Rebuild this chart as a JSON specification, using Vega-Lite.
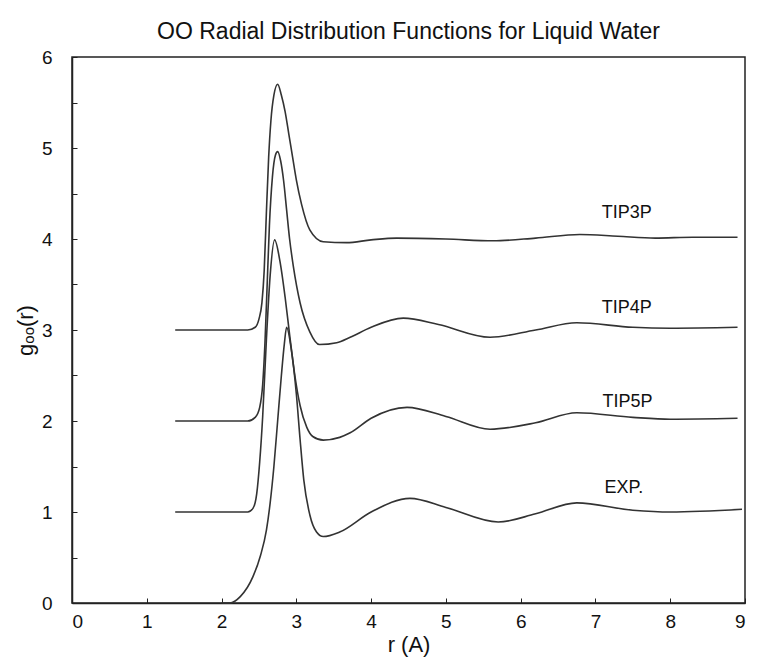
{
  "$schema": "https://vega.github.io/schema/vega-lite/v6.json",
  "autosize": "none",
  "width": 673,
  "height": 546,
  "padding": {"left": 72, "top": 57, "right": 13, "bottom": 61},
  "background": "white",
  "title": {
    "text": "OO Radial Distribution Functions for Liquid Water",
    "font": "Liberation Sans",
    "fontSize": 23,
    "fontWeight": "normal",
    "color": "#111",
    "anchor": "middle",
    "offset": 4
  },
  "config": {
    "view": {"stroke": "#222", "strokeWidth": 1.5},
    "axis": {
      "labelFont": "Liberation Sans",
      "titleFont": "Liberation Sans",
      "labelFontSize": 19,
      "titleFontSize": 22,
      "titleFontWeight": "normal",
      "labelColor": "#111",
      "titleColor": "#111",
      "domainColor": "#222",
      "domainWidth": 1.5,
      "tickColor": "#222",
      "tickSize": -5,
      "grid": false
    }
  },
  "datasets": {
    "curves": [
      {"series": "TIP3P", "r": 1.38, "g": 3.0},
      {"series": "TIP3P", "r": 2.0, "g": 3.0},
      {"series": "TIP3P", "r": 2.35, "g": 3.0},
      {"series": "TIP3P", "r": 2.45, "g": 3.03},
      {"series": "TIP3P", "r": 2.5, "g": 3.12},
      {"series": "TIP3P", "r": 2.54, "g": 3.3},
      {"series": "TIP3P", "r": 2.57, "g": 3.65},
      {"series": "TIP3P", "r": 2.6, "g": 4.3},
      {"series": "TIP3P", "r": 2.63, "g": 4.9},
      {"series": "TIP3P", "r": 2.66, "g": 5.3},
      {"series": "TIP3P", "r": 2.7, "g": 5.58},
      {"series": "TIP3P", "r": 2.75, "g": 5.7},
      {"series": "TIP3P", "r": 2.8, "g": 5.58},
      {"series": "TIP3P", "r": 2.85, "g": 5.4},
      {"series": "TIP3P", "r": 2.9, "g": 5.15},
      {"series": "TIP3P", "r": 2.95, "g": 4.9},
      {"series": "TIP3P", "r": 3.0, "g": 4.65},
      {"series": "TIP3P", "r": 3.07, "g": 4.38},
      {"series": "TIP3P", "r": 3.18, "g": 4.1},
      {"series": "TIP3P", "r": 3.36, "g": 3.97},
      {"series": "TIP3P", "r": 3.67, "g": 3.96},
      {"series": "TIP3P", "r": 4.0, "g": 3.99},
      {"series": "TIP3P", "r": 4.34, "g": 4.01},
      {"series": "TIP3P", "r": 5.0, "g": 4.0},
      {"series": "TIP3P", "r": 5.63, "g": 3.98},
      {"series": "TIP3P", "r": 6.2, "g": 4.01},
      {"series": "TIP3P", "r": 6.79, "g": 4.05},
      {"series": "TIP3P", "r": 7.3, "g": 4.03},
      {"series": "TIP3P", "r": 7.8, "g": 4.01},
      {"series": "TIP3P", "r": 8.3, "g": 4.02},
      {"series": "TIP3P", "r": 8.9, "g": 4.02},

      {"series": "TIP4P", "r": 1.38, "g": 2.0},
      {"series": "TIP4P", "r": 2.0, "g": 2.0},
      {"series": "TIP4P", "r": 2.35, "g": 2.0},
      {"series": "TIP4P", "r": 2.45, "g": 2.04},
      {"series": "TIP4P", "r": 2.51, "g": 2.15},
      {"series": "TIP4P", "r": 2.55, "g": 2.4},
      {"series": "TIP4P", "r": 2.58, "g": 2.85},
      {"series": "TIP4P", "r": 2.61, "g": 3.5},
      {"series": "TIP4P", "r": 2.64, "g": 4.15},
      {"series": "TIP4P", "r": 2.68, "g": 4.68},
      {"series": "TIP4P", "r": 2.72, "g": 4.92},
      {"series": "TIP4P", "r": 2.75, "g": 4.96},
      {"series": "TIP4P", "r": 2.79, "g": 4.86},
      {"series": "TIP4P", "r": 2.83, "g": 4.64},
      {"series": "TIP4P", "r": 2.87, "g": 4.32},
      {"series": "TIP4P", "r": 2.91, "g": 4.0},
      {"series": "TIP4P", "r": 2.96, "g": 3.7},
      {"series": "TIP4P", "r": 3.05, "g": 3.3},
      {"series": "TIP4P", "r": 3.18, "g": 2.98},
      {"series": "TIP4P", "r": 3.31, "g": 2.84},
      {"series": "TIP4P", "r": 3.54, "g": 2.86},
      {"series": "TIP4P", "r": 3.72, "g": 2.92},
      {"series": "TIP4P", "r": 4.0, "g": 3.03},
      {"series": "TIP4P", "r": 4.43, "g": 3.13},
      {"series": "TIP4P", "r": 4.9, "g": 3.06},
      {"series": "TIP4P", "r": 5.59, "g": 2.92},
      {"series": "TIP4P", "r": 6.2, "g": 3.0},
      {"series": "TIP4P", "r": 6.75, "g": 3.08},
      {"series": "TIP4P", "r": 7.5, "g": 3.03},
      {"series": "TIP4P", "r": 8.0, "g": 3.02},
      {"series": "TIP4P", "r": 8.9, "g": 3.03},

      {"series": "TIP5P", "r": 1.38, "g": 1.0},
      {"series": "TIP5P", "r": 2.0, "g": 1.0},
      {"series": "TIP5P", "r": 2.35, "g": 1.0},
      {"series": "TIP5P", "r": 2.42, "g": 1.04},
      {"series": "TIP5P", "r": 2.47, "g": 1.2},
      {"series": "TIP5P", "r": 2.51, "g": 1.55},
      {"series": "TIP5P", "r": 2.55, "g": 2.05},
      {"series": "TIP5P", "r": 2.6, "g": 2.9},
      {"series": "TIP5P", "r": 2.65, "g": 3.6},
      {"series": "TIP5P", "r": 2.71, "g": 3.99},
      {"series": "TIP5P", "r": 2.78, "g": 3.76},
      {"series": "TIP5P", "r": 2.85, "g": 3.36},
      {"series": "TIP5P", "r": 2.91, "g": 2.95},
      {"series": "TIP5P", "r": 2.98, "g": 2.5},
      {"series": "TIP5P", "r": 3.05, "g": 2.17},
      {"series": "TIP5P", "r": 3.14, "g": 1.93},
      {"series": "TIP5P", "r": 3.22, "g": 1.83},
      {"series": "TIP5P", "r": 3.36, "g": 1.79},
      {"series": "TIP5P", "r": 3.58, "g": 1.82},
      {"series": "TIP5P", "r": 3.72, "g": 1.87},
      {"series": "TIP5P", "r": 4.0, "g": 2.03},
      {"series": "TIP5P", "r": 4.48, "g": 2.15},
      {"series": "TIP5P", "r": 5.0, "g": 2.05},
      {"series": "TIP5P", "r": 5.59, "g": 1.91},
      {"series": "TIP5P", "r": 6.2, "g": 1.98},
      {"series": "TIP5P", "r": 6.75, "g": 2.09},
      {"series": "TIP5P", "r": 7.5, "g": 2.04},
      {"series": "TIP5P", "r": 8.0, "g": 2.02},
      {"series": "TIP5P", "r": 8.9, "g": 2.03},

      {"series": "EXP", "r": 2.0, "g": 0.0},
      {"series": "EXP", "r": 2.11, "g": 0.0},
      {"series": "EXP", "r": 2.25, "g": 0.07},
      {"series": "EXP", "r": 2.42, "g": 0.29},
      {"series": "EXP", "r": 2.52, "g": 0.52},
      {"series": "EXP", "r": 2.6, "g": 0.8},
      {"series": "EXP", "r": 2.65, "g": 1.1},
      {"series": "EXP", "r": 2.7, "g": 1.5},
      {"series": "EXP", "r": 2.75, "g": 2.0},
      {"series": "EXP", "r": 2.8, "g": 2.5},
      {"series": "EXP", "r": 2.84, "g": 2.85},
      {"series": "EXP", "r": 2.87, "g": 3.03},
      {"series": "EXP", "r": 2.93, "g": 2.8},
      {"series": "EXP", "r": 3.0, "g": 2.3},
      {"series": "EXP", "r": 3.05, "g": 1.8},
      {"series": "EXP", "r": 3.1, "g": 1.35},
      {"series": "EXP", "r": 3.18, "g": 0.97},
      {"series": "EXP", "r": 3.27, "g": 0.78},
      {"series": "EXP", "r": 3.36, "g": 0.73},
      {"series": "EXP", "r": 3.58, "g": 0.78},
      {"series": "EXP", "r": 4.0, "g": 1.0},
      {"series": "EXP", "r": 4.52, "g": 1.15},
      {"series": "EXP", "r": 5.0, "g": 1.05},
      {"series": "EXP", "r": 5.7, "g": 0.89},
      {"series": "EXP", "r": 6.2, "g": 0.98},
      {"series": "EXP", "r": 6.75, "g": 1.1},
      {"series": "EXP", "r": 7.5, "g": 1.02},
      {"series": "EXP", "r": 8.0, "g": 1.0},
      {"series": "EXP", "r": 8.96, "g": 1.03}
    ],
    "labels": [
      {"label": "TIP3P", "r": 7.42, "g": 4.29},
      {"label": "TIP4P", "r": 7.42, "g": 3.24},
      {"label": "TIP5P", "r": 7.43, "g": 2.21},
      {"label": "EXP.", "r": 7.38, "g": 1.26}
    ]
  },
  "layer": [
    {
      "data": {"name": "curves"},
      "mark": {"type": "line", "interpolate": "monotone", "color": "#333", "strokeWidth": 1.6},
      "encoding": {
        "x": {
          "field": "r", "type": "quantitative",
          "scale": {"domain": [0, 9], "nice": false},
          "axis": {"title": "r (A)", "values": [0,1,2,3,4,5,6,7,8,9], "format": "d", "labelPadding": 14, "titlePadding": 3}
        },
        "y": {
          "field": "g", "type": "quantitative",
          "scale": {"domain": [0, 6], "nice": false},
          "axis": {
            "title": "gₒₒ(r)",
            "values": [0,0.5,1,1.5,2,2.5,3,3.5,4,4.5,5,5.5,6],
            "labelExpr": "datum.value % 1 === 0 ? format(datum.value, 'd') : ''",
            "labelPadding": 25,
            "titlePadding": 4
          }
        },
        "detail": {"field": "series"},
        "order": {"field": "r", "type": "quantitative"}
      }
    },
    {
      "data": {"name": "labels"},
      "mark": {"type": "text", "font": "Liberation Sans", "fontSize": 18, "color": "#111", "align": "center", "baseline": "middle"},
      "encoding": {
        "x": {"field": "r", "type": "quantitative"},
        "y": {"field": "g", "type": "quantitative"},
        "text": {"field": "label"}
      }
    }
  ]
}
